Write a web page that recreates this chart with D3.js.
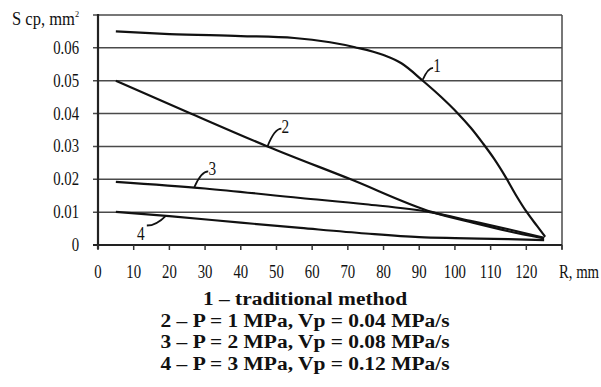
<!DOCTYPE html>
<html>
<head>
<meta charset="utf-8">
<script src="https://cdn.jsdelivr.net/npm/d3@7"></script>
<style>
  body { margin: 0; background: #fff; }
</style>
</head>
<body>
<div id="chart"></div>
<script>
// data (R in mm, S cp in mm^2)
const xTicks = [0, 10, 20, 30, 40, 50, 60, 70, 80, 90, 100, 110, 120];
const yTicks = [0, 0.01, 0.02, 0.03, 0.04, 0.05, 0.06];

const curve1 = [[5, 0.065], [20, 0.0642], [40, 0.0636], [55, 0.063], [65, 0.0617], [72, 0.0602],
  [80, 0.0578], [85, 0.0553], [91, 0.050], [96, 0.0452], [100.7, 0.0402], [104.5, 0.0356], [107.8, 0.031],
  [111, 0.0262], [114.3, 0.0205], [117.2, 0.015], [120, 0.0102], [123, 0.0058], [125.3, 0.0025]];
const curve2 = [[5, 0.050], [25, 0.0405], [47.5, 0.030], [70.8, 0.020], [93.7, 0.010], [105, 0.0068], [115, 0.0042], [125, 0.002]];
const curve3 = [[5, 0.0192], [30, 0.0172], [56.7, 0.0143], [75, 0.0124], [93, 0.0100], [105, 0.0072], [115, 0.0048], [125, 0.0022]];
const curve4 = [[5, 0.0101], [20, 0.0088], [40, 0.0068], [56.7, 0.0052], [75, 0.0035], [90, 0.0024], [100, 0.0021], [115, 0.0018], [125, 0.0015]];
const series = [curve1, curve2, curve3, curve4];

// curve number labels: text position and the point on the curve the leader starts from
const labels = [
  { t: "1", at: [95, 0.0545], pt: [91, 0.0503] },
  { t: "2", at: [52.5, 0.036], pt: [47.5, 0.030] },
  { t: "3", at: [32, 0.023], pt: [27, 0.0176] },
  { t: "4", at: [12, 0.0035], pt: [19, 0.0089] }
];

const legend = [
  "1 \u2013 traditional method",
  "2 \u2013 P = 1 MPa, Vp = 0.04 MPa/s",
  "3 \u2013 P = 2 MPa, Vp = 0.08 MPa/s",
  "4 \u2013 P = 3 MPa, Vp = 0.12 MPa/s"
];

const W = 601, H = 387;
const svg = d3.select("#chart").append("svg")
  .attr("width", W).attr("height", H)
  .attr("font-family", "'Liberation Serif', 'Times New Roman', Times, 'DejaVu Serif', serif")
  .attr("fill", "#111");

const x = d3.scaleLinear().domain([0, 130]).range([98, 562]);
const y = d3.scaleLinear().domain([0, 0.07]).range([245, 15]);

// gridlines (with short stubs left of the axis)
svg.append("g").selectAll("line").data(yTicks.concat([0.07]))
  .join("line")
  .attr("x1", 93).attr("x2", x(130))
  .attr("y1", d => y(d)).attr("y2", d => y(d))
  .attr("stroke", "#4a4a4a").attr("stroke-width", 1.5);

// right border
svg.append("line").attr("x1", x(130)).attr("x2", x(130)).attr("y1", y(0.07)).attr("y2", y(0) + 4)
  .attr("stroke", "#4a4a4a").attr("stroke-width", 1.5);

// y axis
svg.append("line").attr("x1", x(0)).attr("x2", x(0)).attr("y1", y(0.07) - 1).attr("y2", y(0) + 4)
  .attr("stroke", "#222").attr("stroke-width", 2.2);
// x axis
svg.append("line").attr("x1", 93).attr("x2", x(130)).attr("y1", y(0)).attr("y2", y(0))
  .attr("stroke", "#222").attr("stroke-width", 2.2);

// x tick marks
svg.append("g").selectAll("line").data(xTicks.concat([130]))
  .join("line")
  .attr("x1", d => x(d)).attr("x2", d => x(d))
  .attr("y1", y(0)).attr("y2", y(0) + 5)
  .attr("stroke", "#333").attr("stroke-width", 1.5);

// y tick labels
svg.append("g").selectAll("text").data(yTicks)
  .join("text")
  .attr("transform", d => `translate(79,${y(d) + 6}) scale(0.82,1)`)
  .attr("text-anchor", "end")
  .style("font-size", "18px")
  .text(d => d === 0 ? "0" : d.toFixed(2));

// x tick labels
svg.append("g").selectAll("text").data(xTicks)
  .join("text")
  .attr("transform", d => `translate(${x(d)},${y(0) + 33}) scale(0.82,1)`)
  .attr("text-anchor", "middle")
  .style("font-size", "18px")
  .text(d => d);

svg.append("text")
  .attr("transform", `translate(${x(130) + 17},${y(0) + 33}) scale(0.82,1)`)
  .attr("text-anchor", "middle")
  .style("font-size", "18px")
  .text("R, mm");

// y axis title
const yt = svg.append("text")
  .attr("transform", "translate(12,25) scale(0.92,1)")
  .style("font-size", "18px");
yt.append("tspan").text("S cp, mm");
yt.append("tspan").attr("dy", -8).style("font-size", "9px").text("2");

// curves
const line = d3.line().x(d => x(d[0])).y(d => y(d[1])).curve(d3.curveMonotoneX);
svg.append("g").selectAll("path").data(series)
  .join("path")
  .attr("d", line)
  .attr("fill", "none")
  .attr("stroke", "#111")
  .attr("stroke-width", 2.2);

// curve number labels with leader strokes
const lab = svg.append("g").selectAll("g").data(labels).join("g");
lab.append("path")
  .attr("d", d => {
    const x0 = x(d.pt[0]), y0 = y(d.pt[1]);
    const x1 = x(d.at[0]) + (d.at[0] > d.pt[0] ? -4 : 6), y1 = y(d.at[1]) + (d.at[1] > d.pt[1] ? 2 : -8);
    return `M${x0},${y0} Q${(x0 + x1) / 2},${y1} ${x1},${y1}`;
  })
  .attr("fill", "none").attr("stroke", "#111").attr("stroke-width", 1.8);
lab.append("text")
  .attr("transform", d => `translate(${x(d.at[0])},${y(d.at[1]) + 6}) scale(0.85,1)`)
  .attr("text-anchor", "middle")
  .style("font-size", "18px")
  .text(d => d.t);

// legend
svg.append("g").selectAll("text").data(legend)
  .join("text")
  .attr("transform", (d, i) => `translate(305,${305 + i * 21.7}) scale(1.1,1)`)
  .attr("text-anchor", "middle")
  .style("font-size", "19.5px")
  .style("font-weight", "bold")
  .text(d => d);
</script>
</body>
</html>
